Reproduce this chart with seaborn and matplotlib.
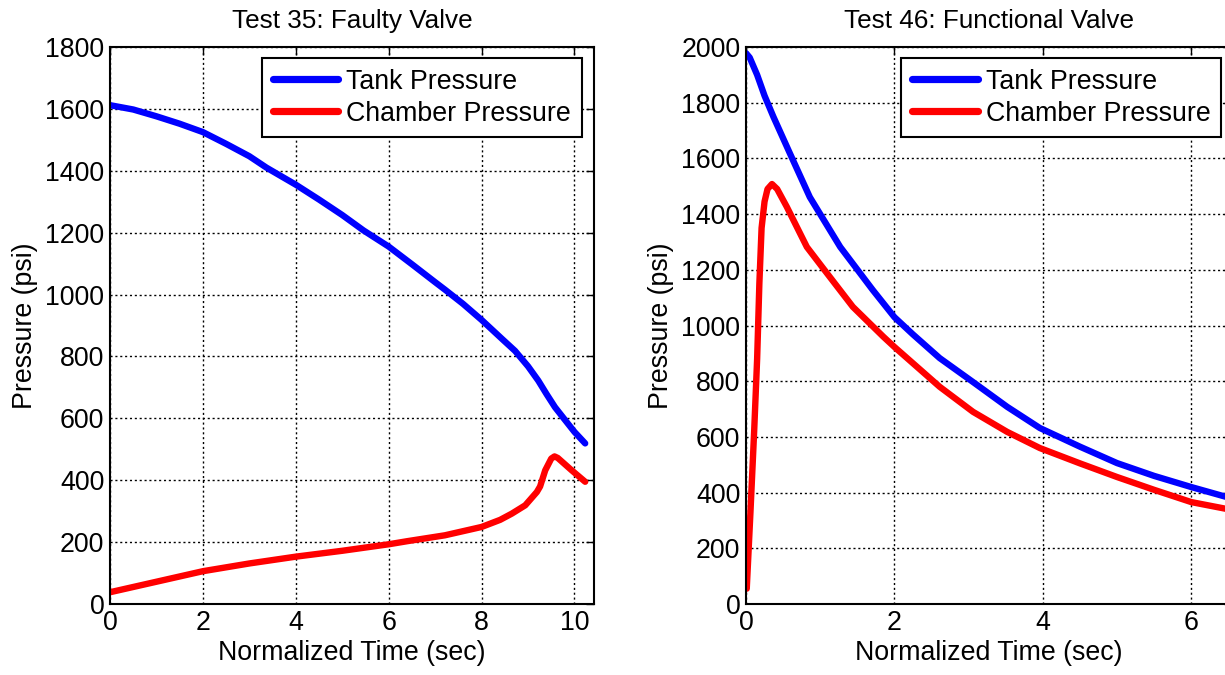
import numpy as np
import pandas as pd
import matplotlib
matplotlib.use("Agg")
import matplotlib.pyplot as plt
import seaborn as sns

# ---- data ----
t35_time = [0, 0.5, 1, 1.5, 2, 2.5, 3, 3.37, 4, 4.5, 5, 5.46, 6, 6.5, 7, 7.21, 7.6, 8, 8.43, 8.72, 9.0, 9.22, 9.4, 9.58, 9.8, 10.0, 10.23]
t35_tank = [1612, 1598, 1576, 1552, 1525, 1487, 1447, 1410, 1355, 1307, 1257, 1207, 1155, 1098, 1040, 1016, 970, 918, 858, 818, 768, 722, 678, 636, 594, 556, 519]

t35_ch_time = [0, 1, 2, 3, 4, 5, 6, 6.4, 7.21, 8, 8.4, 8.65, 8.94, 9.19, 9.26, 9.37, 9.5, 9.57, 9.64, 9.94, 10.23]
t35_chamber = [38, 72, 106, 131, 153, 172, 193, 203, 222, 249, 272, 292, 319, 362, 380, 432, 470, 477, 472, 432, 395]

t46_time = [0, 0.05, 0.15, 0.25, 0.37, 0.59, 0.86, 1.27, 1.71, 2.0, 2.25, 2.61, 3.06, 3.52, 3.96, 4.5, 5.0, 5.5, 6.0, 6.6]
t46_tank = [1978, 1962, 1900, 1825, 1749, 1619, 1461, 1282, 1127, 1030, 968, 883, 797, 708, 632, 565, 506, 460, 420, 375]

t46_ch_time = [0.01, 0.06, 0.11, 0.15, 0.18, 0.21, 0.25, 0.29, 0.35, 0.42, 0.55, 0.82, 1.09, 1.44, 1.85, 2.0, 2.61, 3.06, 3.52, 3.96, 4.5, 5.0, 5.5, 6.0, 6.6]
t46_chamber = [55, 330, 620, 880, 1150, 1350, 1445, 1490, 1508, 1490, 1426, 1282, 1188, 1067, 960, 923, 780, 690, 618, 560, 505, 456, 410, 366, 335]

series_labels = ["Tank Pressure", "Chamber Pressure"]
titles = ["Test 35: Faulty Valve", "Test 46: Functional Valve"]

sns.set_style("white")
plt.rcParams["font.family"] = ["Liberation Sans", "DejaVu Sans"]
for k in ["text.color", "axes.labelcolor", "xtick.color", "ytick.color", "axes.edgecolor"]:
    plt.rcParams[k] = "black"
FS = 19.3

fig = plt.figure(figsize=(12.25, 6.75), dpi=100)
W, H = 1225, 675
ax1 = fig.add_axes([110 / W, 1 - 604 / H, 484 / W, 557 / H])
ax2 = fig.add_axes([746 / W, 1 - 604 / H, 486 / W, 557 / H])

def df(x, y):
    return pd.DataFrame({"t": x, "p": y})

panels = [
    (ax1, df(t35_time, t35_tank), df(t35_ch_time, t35_chamber), (0, 10.42), (0, 1800), 200, (0.975, 0.98)),
    (ax2, df(t46_time, t46_tank), df(t46_ch_time, t46_chamber), (0, 6.55), (0, 2000), 200, (0.978, 0.98)),
]

for i, (ax, dtank, dch, xl, yl, ystep, anchor) in enumerate(panels):
    sns.lineplot(data=dtank, x="t", y="p", ax=ax, color="#0000ff", lw=4.6, label=series_labels[0])
    sns.lineplot(data=dch, x="t", y="p", ax=ax, color="#ff0000", lw=4.6, label=series_labels[1])
    ax.set_xlim(*xl)
    ax.set_ylim(*yl)
    ax.set_xticks(np.arange(0, xl[1] + 0.01, 2))
    ax.set_yticks(np.arange(yl[0], yl[1] + 1, ystep))
    ax.grid(True, color="black", linestyle=(0, (1.5, 2.0)), linewidth=1.0)
    ax.set_axisbelow(True)
    for s in ax.spines.values():
        s.set_color("black")
        s.set_linewidth(1.5)
        s.set_visible(True)
    ax.tick_params(direction="in", length=6, width=1.0, top=True, right=True,
                   labelsize=FS, colors="black", pad=4)
    ax.set_xlabel("Normalized Time (sec)", fontsize=FS, labelpad=3)
    ax.set_ylabel("Pressure (psi)", fontsize=FS, labelpad=5)
    ax.set_title(titles[i], fontsize=18.8, pad=14)
    leg = ax.legend(loc="upper right", bbox_to_anchor=anchor, borderaxespad=0,
                    fontsize=FS, frameon=True, fancybox=False, framealpha=1,
                    edgecolor="black", handlelength=2.45, handletextpad=0.3,
                    borderpad=0.4, labelspacing=0.22)
    leg.get_frame().set_linewidth(1.5)
    for h in leg.get_lines():
        h.set_linewidth(5.2)

fig.savefig("out.png", dpi=100)
